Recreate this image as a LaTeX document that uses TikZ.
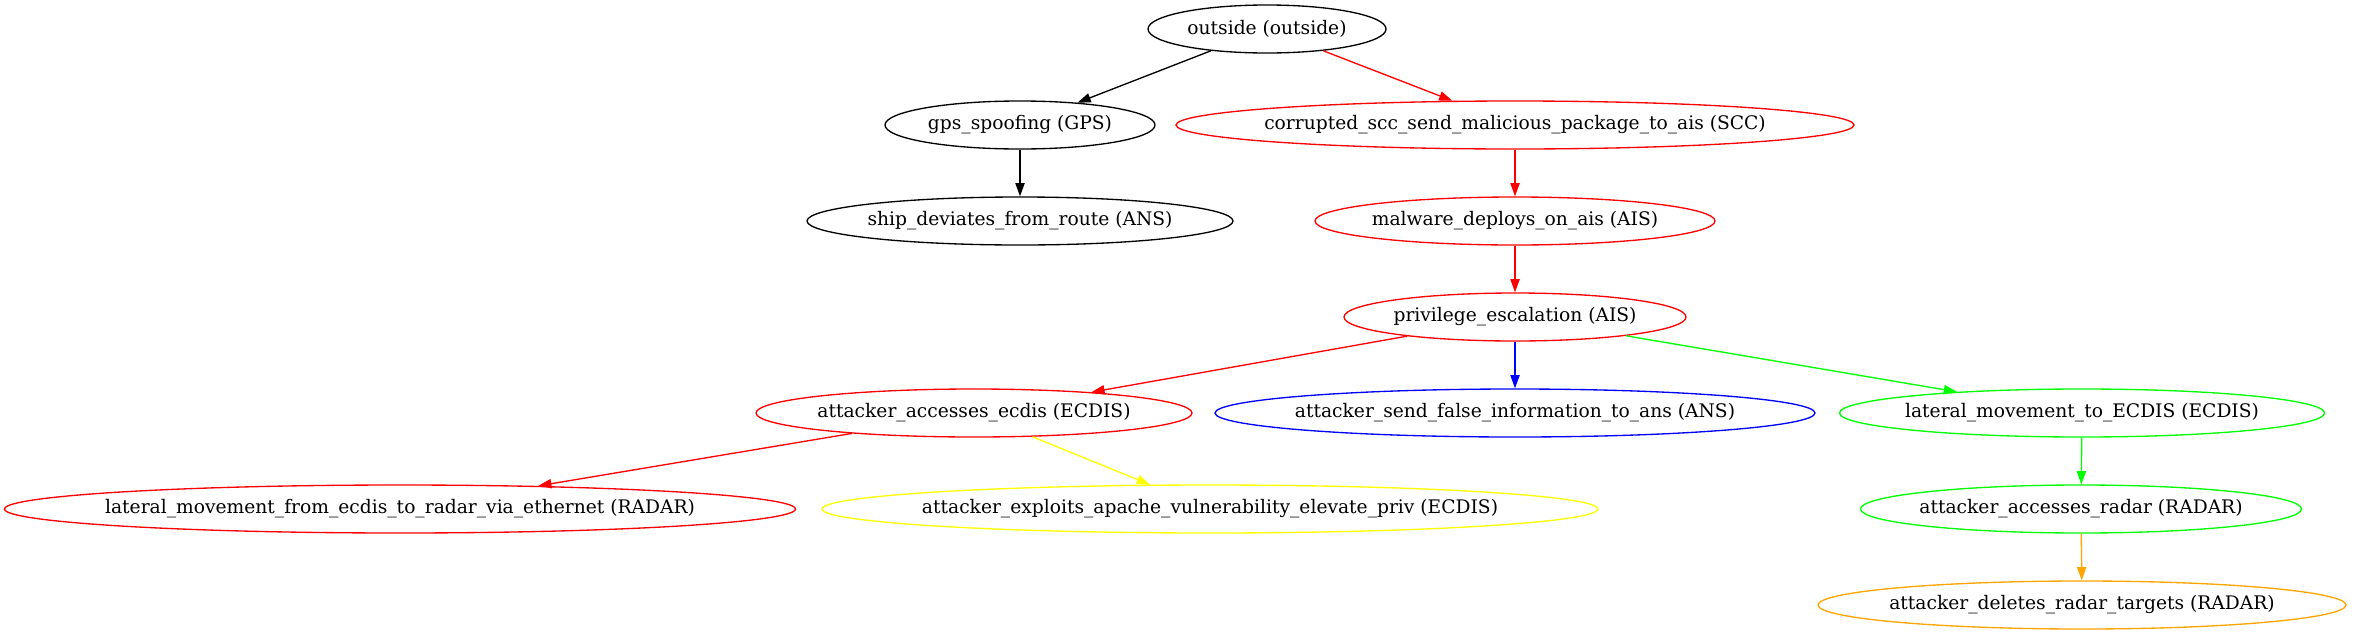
\documentclass[tikz,border=0pt]{standalone}
\usepackage{fontspec}
\setmainfont{DejaVu Serif}
\usetikzlibrary{shapes.geometric,arrows.meta}
\definecolor{gvred}{HTML}{FF0000}
\definecolor{gvblue}{HTML}{0000FF}
\definecolor{gvgreen}{HTML}{00FF00}
\definecolor{gvyellow}{HTML}{FFFF00}
\definecolor{gvorange}{HTML}{FFA500}
\newcommand{\gvlabel}[1]{\makebox[0pt][c]{#1}}
\tikzset{
  gv/.style={ellipse, draw, line width=1.33pt, inner sep=0pt, minimum height=48pt,
    font=\fontsize{18.67pt}{22pt}\selectfont},
  edge/.style={line width=1.33pt, -{Triangle[length=13.3pt,width=9.3pt]}},
}
\begin{document}
\begin{tikzpicture}[x=1pt,y=-1pt]
\useasboundingbox (0,0) rectangle (2353,635);
\node[gv, minimum width=238pt] (out) at (1267,29) {\gvlabel{outside (outside)}};
\node[gv, minimum width=270pt] (gps) at (1020,125) {\gvlabel{gps\_spoofing (GPS)}};
\node[gv, draw=gvred, minimum width=678pt] (scc) at (1515,125) {\gvlabel{corrupted\_scc\_send\_malicious\_package\_to\_ais (SCC)}};
\node[gv, minimum width=426pt] (ship) at (1020,221) {\gvlabel{ship\_deviates\_from\_route (ANS)}};
\node[gv, draw=gvred, minimum width=400pt] (mal) at (1515,221) {\gvlabel{malware\_deploys\_on\_ais (AIS)}};
\node[gv, draw=gvred, minimum width=342pt] (priv) at (1515,317) {\gvlabel{privilege\_escalation (AIS)}};
\node[gv, draw=gvred, minimum width=436pt] (ecdis) at (974,413) {\gvlabel{attacker\_accesses\_ecdis (ECDIS)}};
\node[gv, draw=gvblue, minimum width=600pt] (false) at (1515,413) {\gvlabel{attacker\_send\_false\_information\_to\_ans (ANS)}};
\node[gv, draw=gvgreen, minimum width=485pt] (latE) at (2082,413) {\gvlabel{lateral\_movement\_to\_ECDIS (ECDIS)}};
\node[gv, draw=gvred, minimum width=791pt] (latR) at (400,509) {\gvlabel{lateral\_movement\_from\_ecdis\_to\_radar\_via\_ethernet (RADAR)}};
\node[gv, draw=gvyellow, minimum width=776pt] (expl) at (1210,509) {\gvlabel{attacker\_exploits\_apache\_vulnerability\_elevate\_priv (ECDIS)}};
\node[gv, draw=gvgreen, minimum width=441pt] (radar) at (2081,509) {\gvlabel{attacker\_accesses\_radar (RADAR)}};
\node[gv, draw=gvorange, minimum width=528pt] (del) at (2082,605) {\gvlabel{attacker\_deletes\_radar\_targets (RADAR)}};
\draw[edge] (out) -- (gps);
\draw[edge, gvred] (out) -- (scc);
\draw[edge] (gps) -- (ship);
\draw[edge, gvred] (scc) -- (mal);
\draw[edge, gvred] (mal) -- (priv);
\draw[edge, gvred] (priv) -- (ecdis);
\draw[edge, gvblue] (priv) -- (false);
\draw[edge, gvgreen] (priv) -- (latE);
\draw[edge, gvred] (ecdis) -- (latR);
\draw[edge, gvyellow] (ecdis) -- (expl);
\draw[edge, gvgreen] (latE) -- (radar);
\draw[edge, gvorange] (radar) -- (del);
\end{tikzpicture}
\end{document}
